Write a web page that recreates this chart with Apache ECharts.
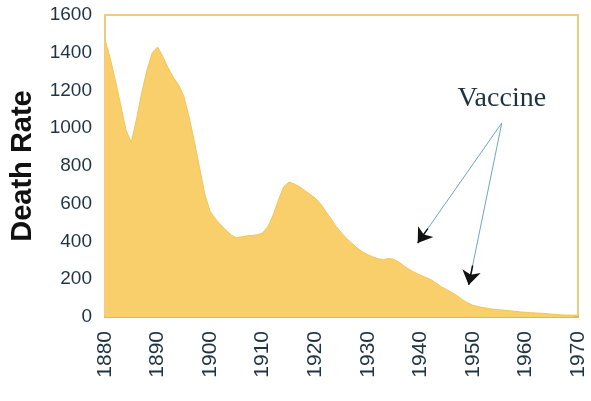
<!DOCTYPE html>
<html>
<head>
<meta charset="utf-8">
<script src="https://cdn.jsdelivr.net/npm/echarts@6/dist/echarts.min.js"></script>
<style>html,body{margin:0;padding:0;background:#fff}#c{width:591px;height:401px}</style>
</head>
<body>
<div id="c"></div>
<script>
var years = [];
for (var y = 1880; y <= 1970; y++) years.push(y);
var deathRate = [
  1470, 1370, 1250, 1120, 990, 925, 1050, 1190, 1310, 1400,
  1430, 1380, 1320, 1270, 1230, 1170, 1060, 930, 790, 650,
  560, 520, 490, 460, 435, 420, 425, 430, 432, 436,
  445, 480, 540, 620, 690, 715, 705, 690, 670, 650,
  630, 600, 560, 520, 480, 445, 415, 390, 365, 345,
  330, 318, 308, 305, 310, 305, 290, 268, 250, 235,
  222, 210, 198, 180, 160, 145, 130, 112, 92, 75,
  62, 55, 50, 45, 41, 38, 36, 33, 30, 27,
  25, 23, 21, 20, 18, 15, 13, 11, 10, 10, 10
];
var xTicks = [1880, 1970, 10];
var yTicks = [0, 1600, 200];
var annotationText = 'Vaccine';
var arrowOrigin = [1955.5, 1028];
var arrowTips = [[1939.5, 392], [1949.2, 170]];

var seriesData = years.map(function (yr, i) { return [yr, deathRate[i]]; });

function back(tip, frac) {
  return [tip[0] + (arrowOrigin[0] - tip[0]) * frac, tip[1] + (arrowOrigin[1] - tip[1]) * frac];
}

var blueLines = arrowTips.map(function (t) {
  return [{ coord: arrowOrigin }, { coord: back(t, 0.05) }];
});
var blackHeads = arrowTips.map(function (t) {
  return [{ coord: back(t, 0.12) }, { coord: t }];
});

var chart = echarts.init(document.getElementById('c'));
chart.setOption({
  animation: false,
  backgroundColor: '#ffffff',
  grid: {
    left: 105, right: 13, top: 15, bottom: 84,
    show: true, borderColor: '#efca80', borderWidth: 2, backgroundColor: '#ffffff'
  },
  xAxis: {
    type: 'value', min: xTicks[0], max: xTicks[1], interval: xTicks[2],
    axisLine: { show: true, lineStyle: { color: '#e8b450', width: 2 } },
    axisTick: { show: false },
    splitLine: { show: false },
    axisLabel: {
      rotate: 90, margin: 14, fontSize: 21, color: '#1f3442',
      fontFamily: 'Liberation Sans',
      formatter: function (v) { return String(v); }
    }
  },
  yAxis: {
    type: 'value', min: yTicks[0], max: yTicks[1], interval: yTicks[2],
    name: 'Death Rate', nameLocation: 'middle', nameGap: 68,
    nameTextStyle: { fontSize: 29, fontWeight: 'bold', color: '#111', fontFamily: 'Liberation Sans' },
    axisLine: { show: false },
    axisTick: { show: false },
    splitLine: { show: false },
    axisLabel: {
      margin: 13, fontSize: 19, color: '#1f3442', fontFamily: 'Liberation Sans',
      formatter: function (v) { return String(v); }
    }
  },
  series: [
    {
      type: 'line',
      data: seriesData,
      showSymbol: false,
      lineStyle: { color: '#f2c55a', width: 1 },
      areaStyle: { color: '#f9cf6b', opacity: 1 },
      markLine: {
        silent: true,
        symbol: ['none', 'none'],
        lineStyle: { color: '#6ea6c6', width: 1, type: 'solid' },
        label: { show: false },
        data: blueLines
      }
    },
    {
      type: 'line',
      data: [],
      markLine: {
        silent: true,
        symbol: ['none', 'arrow'],
        symbolSize: 14,
        lineStyle: { color: '#111111', width: 1.5, type: 'solid' },
        itemStyle: { color: '#111111' },
        label: { show: false },
        data: blackHeads
      },
      markPoint: {
        silent: true,
        symbol: 'rect',
        symbolSize: [0, 0],
        label: {
          show: true, formatter: annotationText, fontSize: 28,
          fontFamily: 'Liberation Serif', color: '#1c3340',
          position: 'inside'
        },
        data: [{ coord: [arrowOrigin[0], arrowOrigin[1] + 130] }]
      }
    }
  ]
});
</script>
</body>
</html>
